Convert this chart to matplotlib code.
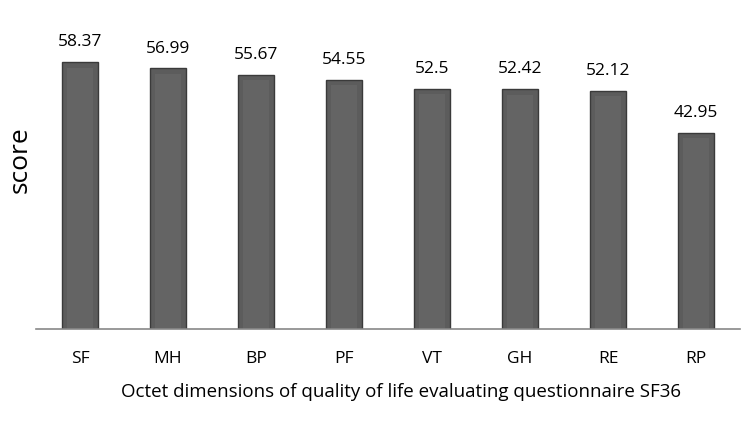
import matplotlib.pyplot as plt
import numpy as np

categories = ["SF", "MH", "BP", "PF", "VT", "GH", "RE", "RP"]
scores = [58.37, 56.99, 55.67, 54.55, 52.5, 52.42, 52.12, 42.95]
value_labels = ["58.37", "56.99", "55.67", "54.55", "52.5", "52.42", "52.12", "42.95"]

plt.rcParams["font.family"] = ["Open Sans", "DejaVu Sans"]

fig = plt.figure(figsize=(7.52, 4.21), dpi=100)
ax = fig.add_axes([36 / 752, 92 / 421, 704 / 752, 320 / 421])

x = np.arange(len(categories))
bars = ax.bar(x, scores, width=0.4, color="#5c5c5c", edgecolor="#3a3a3a", linewidth=1.0)
# lighter inner face to hint at the bevel of the original
ax.bar(x, np.array(scores) - 1.2, width=0.3, color="#646464", linewidth=0)

for bar, lab in zip(bars, value_labels):
    ax.text(bar.get_x() + bar.get_width() / 2, bar.get_height() + 2.6, lab,
            ha="center", va="bottom", fontsize=12.5, color="black")

ax.set_xlim(-0.5, len(categories) - 0.5)
ax.set_ylim(0, 70)
ax.set_xticks(x)
ax.set_xticklabels(categories, fontsize=12.5)
ax.tick_params(axis="x", length=0, pad=16)
ax.set_yticks([])
for s in ["top", "right", "left"]:
    ax.spines[s].set_visible(False)
ax.spines["bottom"].set_color("#888888")
ax.spines["bottom"].set_linewidth(1.2)

ax.set_xlabel("Octet dimensions of quality of life evaluating questionnaire SF36", fontsize=13.5)
ax.xaxis.set_label_coords(0.518, -0.17)
fig.text(20 / 752, 1 - 160 / 421, "score", rotation=90, fontsize=19, ha="center", va="center")

fig.savefig("out.png", dpi=100)
